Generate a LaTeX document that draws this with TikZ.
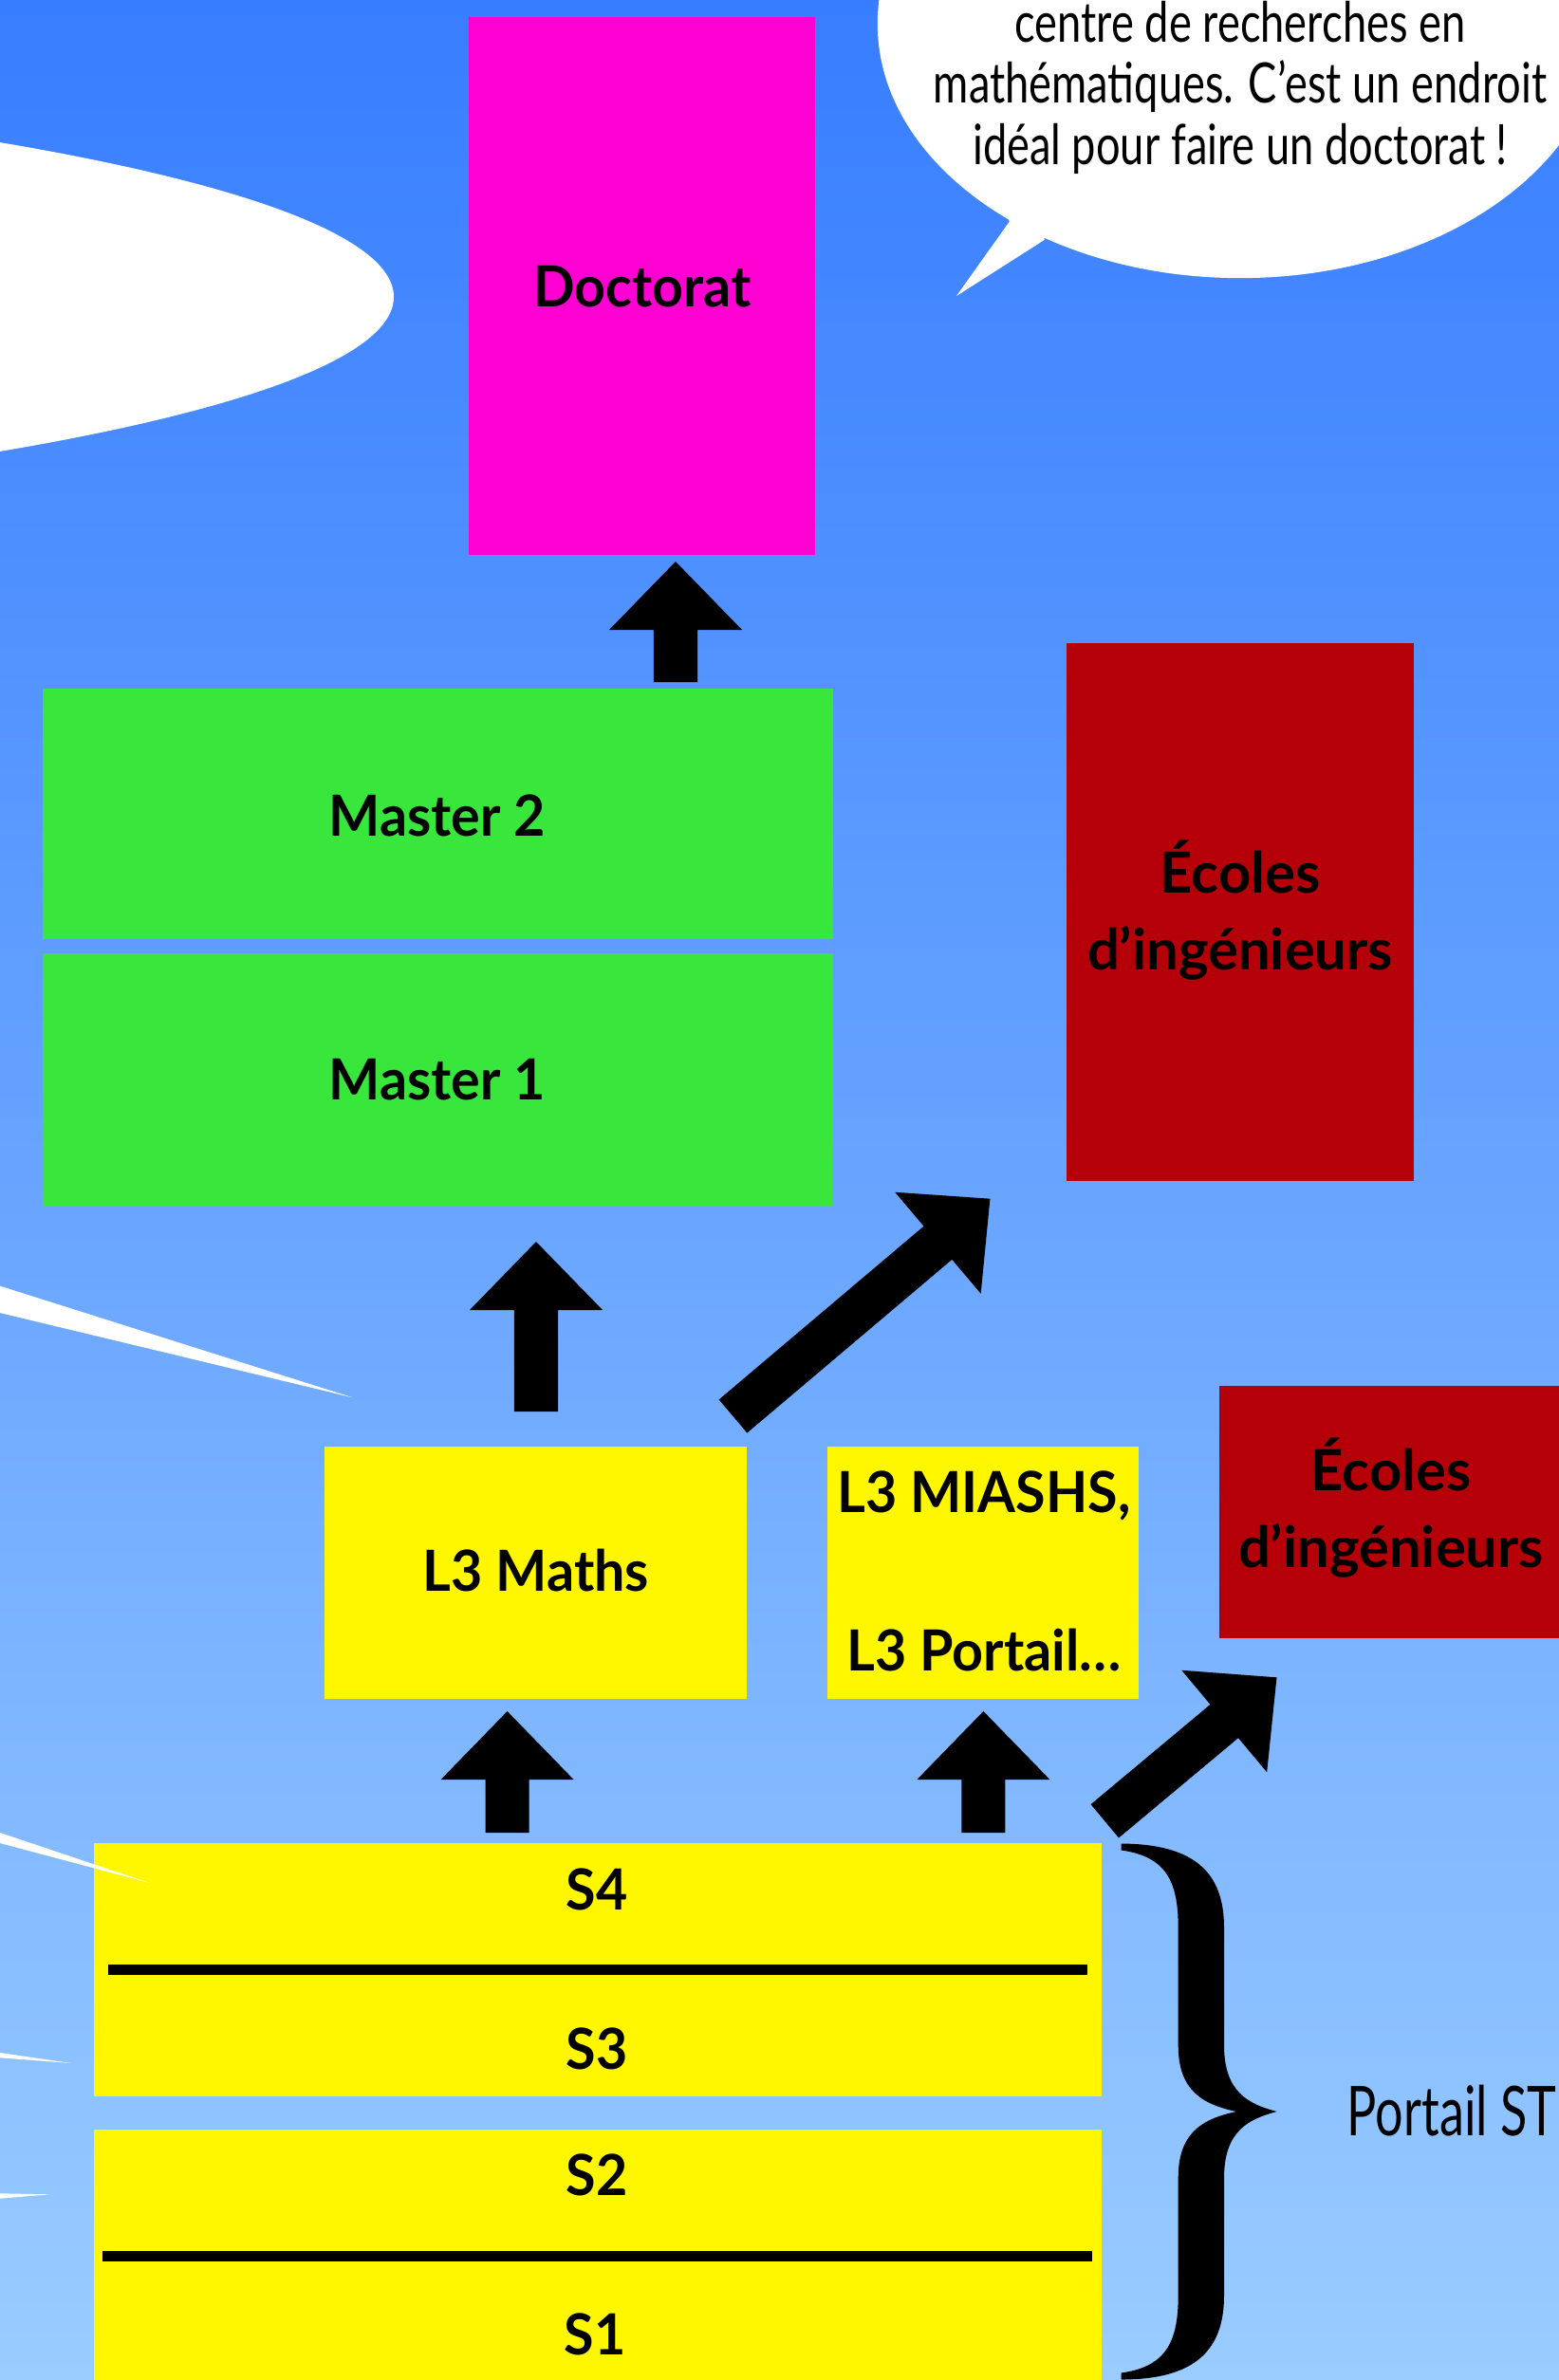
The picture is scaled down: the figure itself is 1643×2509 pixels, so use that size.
\documentclass[tikz,border=0pt]{standalone}
\usepackage{fontspec}
\setmainfont{Lato}
\newfontfamily\condfont{Lato}[FakeStretch=0.72]
\newfontfamily\bubblefont{Lato}[FakeStretch=0.77]
\newfontfamily\narrowbold{Lato}[FakeStretch=0.96]
\usetikzlibrary{calc}
\definecolor{magbox}{RGB}{255,0,210}
\definecolor{greenbox}{RGB}{56,230,60}
\definecolor{redbox}{RGB}{181,0,10}
\definecolor{yelbox}{RGB}{255,247,0}
\definecolor{bgtop}{RGB}{55,125,255}
\definecolor{bgbot}{RGB}{154,204,255}
\newcommand\labfnt{\narrowbold\fontsize{17}{20}\selectfont\bfseries}
\newcommand\ecfnt{\fontsize{17}{20}\selectfont\bfseries}
\newcommand\bubfnt{\bubblefont\fontsize{16.7}{19}\selectfont}
\newcommand\blockarrow[2]{%
  \coordinate (bah) at ($(#2)!0.72cm!(#1)$);
  \fill[black] ($(#1)!0.23cm!90:(#2)$) -- ($(bah)!0.23cm!-90:(#1)$) -- ($(bah)!0.70cm!-90:(#1)$) -- (#2)
    -- ($(bah)!0.70cm!90:(#1)$) -- ($(bah)!0.23cm!90:(#1)$) -- ($(#1)!0.23cm!-90:(#2)$) -- cycle;}
\begin{document}
\begin{tikzpicture}[x=0.01cm,y=-0.01cm,
  box/.style={inner sep=0pt, outer sep=0pt, anchor=north west},
  txt/.style={inner sep=0pt, anchor=base, font=\labfnt, text=black},
  ectxt/.style={inner sep=0pt, anchor=base, font=\ecfnt, text=black},
  bub/.style={inner sep=0pt, anchor=base, font=\bubfnt, text=black},
  divider/.style={line width=0.11cm, black}]
\useasboundingbox (0,0) rectangle (1643,2509);
\shade[top color=bgtop, bottom color=bgbot] (0,0) rectangle (1643,2509);

% speech bubbles
\fill[white] (-1307,313) ellipse [x radius=17.21cm, y radius=2.50cm];
\fill[white] (1307,25) ellipse [x radius=3.82cm, y radius=2.68cm];
\fill[white] (1063.5,234) -- (1008,312) -- (1100.5,253) -- (1100,200) -- (1063,200) -- cycle;
\node[bub] (b1) at (1307,45) {centre de recherches en};
\node[bub] (b2) at (1307,109) {mathématiques. C’est un endroit};
\node[bub] (b3) at (1307,173) {idéal pour faire un doctorat !};

% boxes
\node[box, fill=magbox, minimum width=3.65cm, minimum height=5.67cm] (doc) at (494,18) {};
\node[box, fill=greenbox, minimum width=8.33cm, minimum height=2.64cm] (m2) at (45,726) {};
\node[box, fill=greenbox, minimum width=8.33cm, minimum height=2.67cm] (m1) at (45,1005) {};
\node[box, fill=redbox, minimum width=3.66cm, minimum height=5.67cm] (ec1) at (1124,678) {};
\node[box, fill=redbox, minimum width=3.60cm, minimum height=2.66cm] (ec2) at (1285,1461) {};
\node[box, fill=yelbox, minimum width=4.45cm, minimum height=2.66cm] (l3m) at (342,1525) {};
\node[box, fill=yelbox, minimum width=3.28cm, minimum height=2.66cm] (l3o) at (872,1525) {};
\node[box, fill=yelbox, minimum width=10.61cm, minimum height=2.67cm] (s43) at (99,1943) {};
\node[box, fill=yelbox, minimum width=10.61cm, minimum height=2.70cm] (s21) at (99,2245) {};
\draw[divider] (114,2076.5) -- (1146,2076.5);
\draw[divider] (108,2378.5) -- (1151,2378.5);

% labels
\node[txt] (tdoc) at (677,323) {Doctorat};
\node[txt] (tm2) at (461,881) {Master 2};
\node[txt] (tm1) at (461,1159) {Master 1};
\node[ectxt] (tec1a) at (1307,941.6) {Écoles};
\node[ectxt] (tec1b) at (1307,1022.3) {d’ingénieurs};
\node[ectxt] (tec2a) at (1466,1571.6) {Écoles};
\node[ectxt] (tec2b) at (1466,1652.3) {d’ingénieurs};
\node[txt] (tl3m) at (565,1677) {L3 Maths};
\node[txt] (tl3oa) at (1037,1594) {L3 MIASHS,};
\node[txt] (tl3ob) at (1037,1761.7) {L3 Portail…};
\node[txt] (ts4) at (629,2013) {S4};
\node[txt] (ts3) at (629,2181) {S3};
\node[txt] (ts2) at (629,2314) {S2};
\node[txt] (ts1) at (627,2482) {S1};

% arrows
\coordinate (a1s) at (712,719);   \coordinate (a1e) at (712,592);
\coordinate (a2s) at (565,1488);  \coordinate (a2e) at (565,1309);
\coordinate (a3s) at (772.5,1493);\coordinate (a3e) at (1043.4,1263.7);
\coordinate (a4s) at (534.6,1932);\coordinate (a4e) at (534.6,1804);
\coordinate (a5s) at (1036.4,1932);\coordinate (a5e) at (1036.4,1804);
\coordinate (a6s) at (1164.3,1919.8);\coordinate (a6e) at (1345.5,1768.3);
\blockarrow{a1s}{a1e}
\blockarrow{a2s}{a2e}
\blockarrow{a3s}{a3e}
\blockarrow{a4s}{a4e}
\blockarrow{a5s}{a5e}
\blockarrow{a6s}{a6e}

% slivers (bubble tails from the left)
\fill[white] (0,1355.7) -- (371.7,1473.3) -- (0,1384) -- cycle;
\fill[white] (0,1932) -- (157.7,1985) -- (0,1943) -- cycle;
\fill[white] (0,2164) -- (75,2175) -- (0,2169.3) -- cycle;
\fill[white] (0,2312.3) -- (52.3,2313.3) -- (0,2317.7) -- cycle;

% brace
\fill[black] (1181.7,1943.5) .. controls (1260,1944) and (1290,1975) .. (1290,2032) -- (1290,2156)
  .. controls (1290,2205) and (1315,2218) .. (1345.7,2226)
  .. controls (1315,2234) and (1290,2247) .. (1290,2296) -- (1290,2420)
  .. controls (1290,2477) and (1260,2508.5) .. (1181.7,2508.5) -- (1181.7,2501.5)
  .. controls (1228,2495) and (1241.7,2470) .. (1241.7,2420) -- (1241.7,2296)
  .. controls (1241.7,2250) and (1265,2234) .. (1303,2226)
  .. controls (1265,2218) and (1241.7,2202) .. (1241.7,2156) -- (1241.7,2032)
  .. controls (1241.7,1982) and (1228,1957) .. (1181.7,1950.5) -- cycle;
\node[inner sep=0pt, anchor=base, font=\condfont\fontsize{20.6}{24}\selectfont] (portail) at (1530,2251.5) {Portail ST};
\end{tikzpicture}
\end{document}
